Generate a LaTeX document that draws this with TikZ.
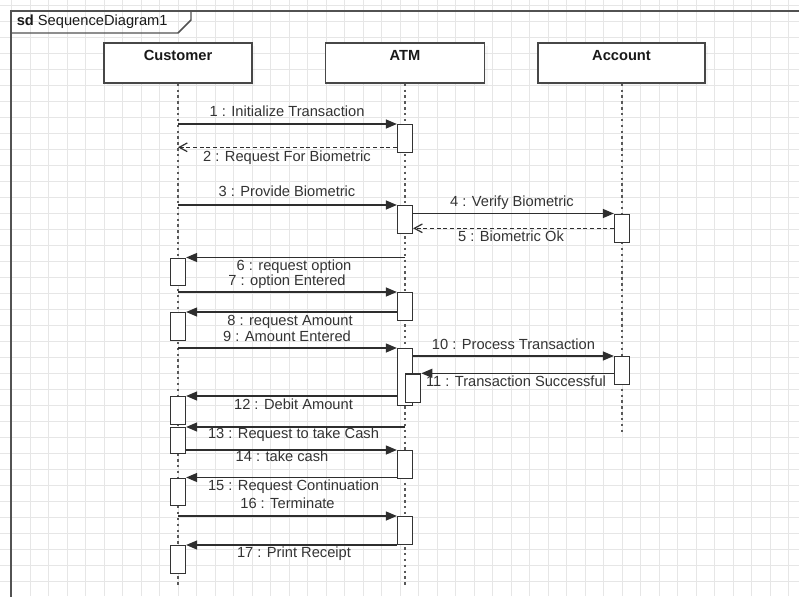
\documentclass[tikz,border=0pt]{standalone}
\usepackage{fontspec}
\setmainfont{Liberation Sans}
\usetikzlibrary{arrows.meta,shadows}
\definecolor{txt}{HTML}{333333}
\definecolor{ln}{HTML}{2E2E2E}
\definecolor{gridc}{HTML}{E6E6E6}
\tikzset{
  gridline/.style={draw=gridc, line width=0.6pt},
  framel/.style={draw=black!68, line width=1.1pt},
  objbox/.style={draw=black!72, fill=white, line width=0.95pt, inner sep=0pt,
     drop shadow={opacity=0.06, shadow xshift=2.5pt, shadow yshift=-2.5pt}},
  objtxt/.style={font=\fontsize{11}{13}\selectfont\bfseries, text=black!90, inner sep=0pt},
  lifeline/.style={draw=black!65, line width=1.3pt, dash pattern=on 1.8pt off 2.6pt},
  actv/.style={draw=black!80, fill=white, line width=0.95pt, minimum width=11.25pt, inner sep=0pt},
  msg/.style={draw=ln, line width=0.9pt, -{Triangle[length=8.25pt,width=6.75pt]}},
  ret/.style={draw=ln, line width=0.9pt, dash pattern=on 3pt off 2pt, -{Straight Barb[length=6pt,width=6.5pt]}},
  lbl/.style={font=\fontsize{11}{13}\selectfont, text=txt, inner sep=0pt, text height=0.72em, text depth=0.1em},
}
\newcommand\mkact[4]{\node[actv, anchor=north, minimum height={(#4-#3)*0.75pt}] (#1) at (#2,#3) {};}
\begin{document}
\begin{tikzpicture}[x=0.75pt,y=-0.75pt]
\useasboundingbox (0,0) rectangle (799,596);
\fill[white] (0,0) rectangle (799,596);
% grid
\foreach \i in {0,...,43} \draw[gridline] ({11.5+18.5*\i},0) -- ++(0,596);
\foreach \j in {0,...,37} \draw[gridline] (0,{5+16*\j}) -- ++(799,0);
% frame
\draw[framel] (11,600) -- (11,11) -- (805,11);
\draw[framel] (11,33) -- (178,33) -- (191,20) -- (191,11);
\node[anchor=west, inner sep=0pt, font=\fontsize{11}{13}\selectfont, text=black!90] (title) at (16.5,22) {\textbf{sd}\ SequenceDiagram1};
% objects
\node[objbox, minimum width=111pt, minimum height=30pt] (cust) at (178,63) {};
\node[objbox, minimum width=119.25pt, minimum height=30pt] (atm) at (405,63) {};
\node[objbox, minimum width=125.25pt, minimum height=30pt] (acct) at (621.5,63) {};
\node[objtxt] (custt) at (178,55.5) {Customer};
\node[objtxt] (atmt) at (405,55.5) {ATM};
\node[objtxt] (acctt) at (621.5,55.5) {Account};
% lifelines
\coordinate (custend) at (178,585);
\coordinate (atmend) at (405,585);
\coordinate (acctend) at (622,434);
\draw[lifeline] (cust.south) -- (custend);
\draw[lifeline] (atm.south) -- (atmend);
\draw[lifeline] (acct.south -| acctend) -- (acctend);
% activations
\mkact{A1}{405}{124}{152}
\mkact{A2}{405}{205}{232.5}
\mkact{A3}{405}{292}{319.5}
\mkact{A4}{405}{348}{405}
\mkact{A4n}{413.2}{373.3}{402}
\mkact{A5}{405}{450}{478}
\mkact{A6}{405}{516}{543.5}
\mkact{B1}{622}{213.5}{241.7}
\mkact{B2}{622}{356}{383.5}
\mkact{C1}{178}{257.5}{285}
\mkact{C2}{178}{312}{340}
\mkact{C3}{178}{396}{423.5}
\mkact{C4}{178}{427}{452.7}
\mkact{C5}{178}{477.5}{505}
\mkact{C6}{178}{545}{572.5}
% messages
\draw[msg] (cust.south |- 0,124) -- (A1.north west);
\draw[ret] (A1.west |- 0,147.3) -- (cust.south |- 0,147.3);
\draw[msg] (cust.south |- 0,205) -- (A2.north west);
\draw[msg] (A2.east |- 0,213.5) -- (B1.north west);
\draw[ret] (B1.west |- 0,228.3) -- (A2.east |- 0,228.3);
\draw[msg] (atm.south |- 0,257.5) -- (C1.north east);
\draw[msg] (cust.south |- 0,292) -- (A3.north west);
\draw[msg] (A3.west |- 0,312) -- (C2.north east);
\draw[msg] (cust.south |- 0,348) -- (A4.north west);
\draw[msg] (A4.east |- 0,356) -- (B2.north west);
\draw[msg] (B2.west |- 0,373.3) -- (A4n.north east);
\draw[msg] (A4.west |- 0,396) -- (C3.north east);
\draw[msg] (atm.south |- 0,427) -- (C4.north east);
\draw[msg] (C4.east |- 0,450) -- (A5.north west);
\draw[msg] (A5.west |- 0,477.5) -- (C5.north east);
\draw[msg] (cust.south |- 0,516) -- (A6.north west);
\draw[msg] (A6.west |- 0,545) -- (C6.north east);
% labels
\node[lbl] (l1) at (287,112) {1 : Initialize Transaction};
\node[lbl] (l2) at (287,157) {2 : Request For Biometric};
\node[lbl] (l3) at (287,192.5) {3 : Provide Biometric};
\node[lbl] (l4) at (512,202.5) {4 : Verify Biometric};
\node[lbl] (l5) at (511,237.5) {5 : Biometric Ok};
\node[lbl] (l6) at (294,266) {6 : request option};
\node[lbl] (l7) at (287,281) {7 : option Entered};
\node[lbl] (l8) at (290,321) {8 : request Amount};
\node[lbl] (l9) at (287,337) {9 : Amount Entered};
\node[lbl] (l10) at (513.5,345) {10 : Process Transaction};
\node[lbl] (l11) at (516,382.5) {11 : Transaction Successful};
\node[lbl] (l12) at (293.5,405) {12 : Debit Amount};
\node[lbl] (l13) at (293.5,434) {13 : Request to take Cash};
\node[lbl] (l14) at (282,457) {14 : take cash};
\node[lbl] (l15) at (293.5,486) {15 : Request Continuation};
\node[lbl] (l16) at (287.5,504.5) {16 : Terminate};
\node[lbl] (l17) at (294,553.5) {17 : Print Receipt};
\end{tikzpicture}
\end{document}
